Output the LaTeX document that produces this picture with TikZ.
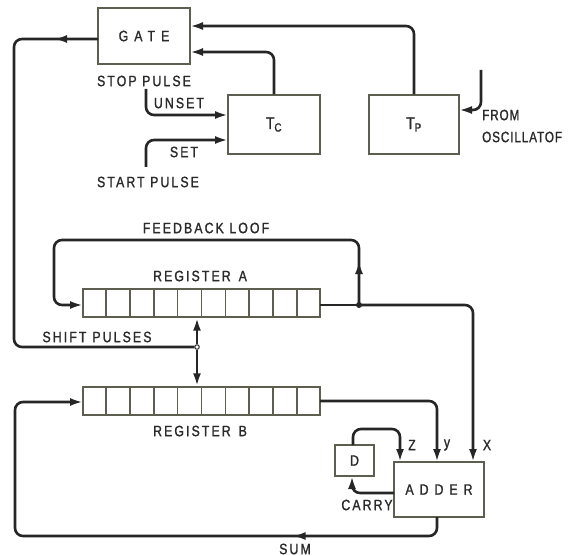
\documentclass[tikz,border=0pt]{standalone}
\usepackage{fontspec}
\setmainfont{Liberation Sans}[FakeStretch=0.82,LetterSpace=14,FakeBold=1.3]
\newfontfamily\widefont{Liberation Sans}[FakeStretch=0.82,LetterSpace=40,FakeBold=1.3]
\newfontfamily\tightfont{Liberation Sans}[FakeStretch=0.78,LetterSpace=6,FakeBold=1.3]
\usetikzlibrary{arrows.meta,decorations.markings,calc}
\definecolor{boxc}{HTML}{5E5E50}
\definecolor{wirec}{HTML}{262626}
\definecolor{txtc}{HTML}{2A2A2A}
\begin{document}
\begin{tikzpicture}[x=1pt,y=-1pt,
  box/.style={draw=boxc, line width=1.4pt, inner sep=0pt, fill=white, font=\fontsize{15}{15}\selectfont, text=txtc},
  wire/.style={draw=wirec, line width=2.6pt, rounded corners=8pt},
  arr/.style={-{Latex[length=13pt,width=8pt]}},
  midarr/.style={postaction={decorate}, decoration={markings, mark=at position #1 with {\arrow{Latex[length=13pt,width=8pt]}}}},
  lbl/.style={font=\fontsize{15}{15}\selectfont, text=txtc, inner sep=0pt},
  cellline/.style={draw=boxc, line width=1.4pt}]
\useasboundingbox (0,0) rectangle (575,556);
% boxes
\node[box, minimum width=92pt, minimum height=56pt] (gate) at (144,36) {\widefont GATE};
\node[box, minimum width=92pt, minimum height=59pt] (tc) at (274,124.5) {\fontsize{17}{17}\selectfont T\textsubscript{C}};
\node[box, minimum width=90pt, minimum height=59pt] (tp) at (414,124.5) {\fontsize{17}{17}\selectfont T\textsubscript{P}};
\node[box, minimum width=237pt, minimum height=28pt] (rega) at (201.5,303) {};
\node[box, minimum width=237pt, minimum height=28pt] (regb) at (201.5,401) {};
\foreach \r in {rega,regb}{
  \foreach \i in {1,...,9}{
    \draw[cellline] ($(\r.north west)!\i/10!(\r.north east)$) -- ($(\r.south west)!\i/10!(\r.south east)$);
  }
}
\node[box, minimum width=90pt, minimum height=55pt] (adder) at (439,489.5) {\widefont ADDER};
\node[box, minimum width=39pt, minimum height=31pt] (dbox) at (354.5,460.5) {D};
% coordinates
\coordinate (gin1) at (190,26);
\coordinate (gin2) at (190,52);
\coordinate (unsetstart) at (146,89);
\coordinate (unsetin) at (228,115);
\coordinate (setstart) at (146,167);
\coordinate (setin) at (228,140);
\coordinate (oscstart) at (481,70);
\coordinate (oscin) at (459,110);
\coordinate (gout) at (98,39);
\node[circle, draw=wirec, line width=1pt, fill=white, inner sep=0pt, minimum size=4.5pt] (sp) at (197,347) {};
\node[circle, fill=wirec, inner sep=0pt, minimum size=6pt] (fa) at (359,305) {};
\coordinate (ain) at (83,305);
\coordinate (bin) at (83,402);
\coordinate (aout) at (320,305);
\coordinate (bout) at (320,401);
\coordinate (xin) at (473,462);
\coordinate (yin) at (437,462);
\coordinate (zin) at (400,462);
\coordinate (dtop) at (353,445);
\coordinate (dbot) at (352,476);
\coordinate (carryout) at (394,493);
\coordinate (sumout) at (437,517);
% connectors
\draw[wire,arr] (tp.north) |- (gin1);
\draw[wire,arr] (tc.north) |- (gin2);
\draw[wire,arr] (unsetstart) |- (unsetin);
\draw[wire,arr] (setstart) |- (setin);
\draw[wire,arr] (oscstart) |- (oscin);
\draw[wire,midarr=44pt] (gout) -- (14,39) -- (14,347) -- (sp.west);
\draw[wire,arr] (sp.north) -- (sp.north |- rega.south);
\draw[wire,arr] (sp.south) -- (sp.south |- regb.north);
\draw[wire,arr,midarr=44pt] (fa.center) -- (359,240) -- (54,240) -- (54,305) -- (ain);
\draw[wire] (aout) -- (fa.center);
\draw[wire,arr] (fa.center) -| (xin);
\draw[wire,arr] (bout) -| (yin);
\draw[wire,arr] (dtop) |- (378,429) -| (zin);
\draw[wire,arr] (carryout) -| (dbot);
\draw[wire,arr,midarr=160pt] (sumout) |- (15,536) |- (bin);
% labels
\node[lbl] at (144,81) {STOP PULSE};
\node[lbl] at (179,103) {UNSET};
\node[lbl] at (184,152) {SET};
\node[lbl] at (148,182) {START PULSE};
\node[lbl, anchor=west] at (482,115) {\tightfont FROM};
\node[lbl, anchor=west] at (482,137) {\tightfont OSCILLATOF};
\node[lbl] at (206,228) {FEEDBACK LOOF};
\node[lbl] at (200,276) {REGISTER\hspace{8pt}A};
\node[lbl] at (97,337) {SHIFT\hspace{6pt}PULSES};
\node[lbl] at (200,431) {REGISTER\hspace{8pt}B};
\node[lbl] at (412,445) {Z};
\node[lbl] at (447,445) {y};
\node[lbl] at (487,445) {X};
\node[lbl] at (367,505) {CARRY};
\node[lbl] at (295,549) {SUM};
\end{tikzpicture}
\end{document}
